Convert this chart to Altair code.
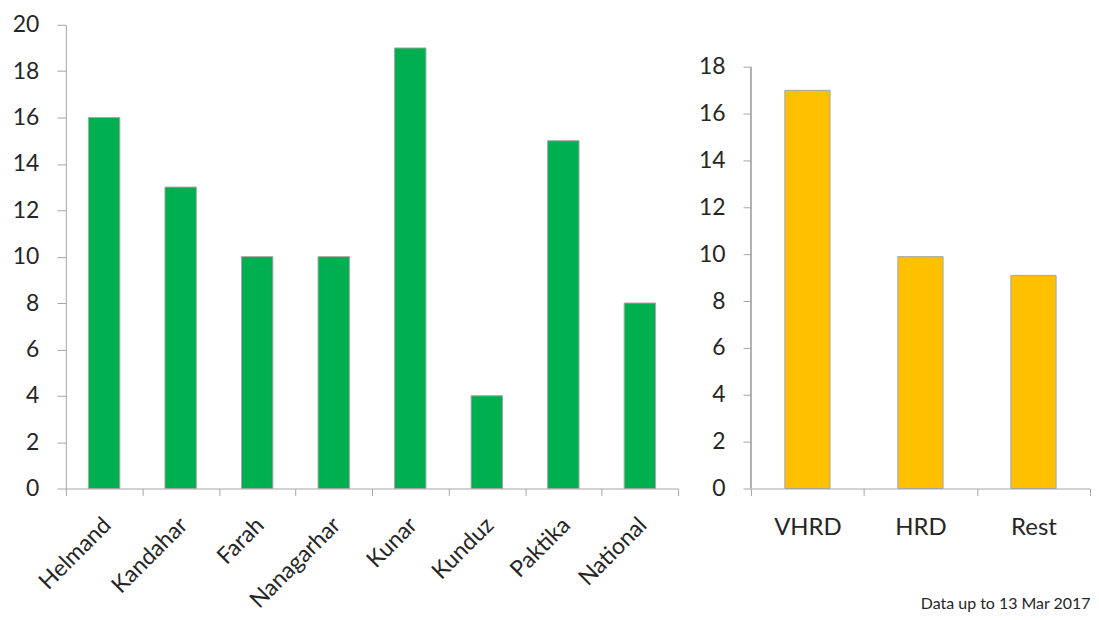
import altair as alt
import pandas as pd

provinces = ["Helmand", "Kandahar", "Farah", "Nanagarhar", "Kunar", "Kunduz", "Paktika", "National"]
province_values = [16, 13, 10, 10, 19, 4, 15, 8]
groups = ["VHRD", "HRD", "Rest"]
group_values = [17, 9.9, 9.1]
left_ticks = list(range(0, 21, 2))
right_ticks = list(range(0, 19, 2))
footnote = "Data up to 13 Mar 2017"

FONT = "Lato"
GRAY = "#A6A6A6"
TXT = "#262626"

left_df = pd.DataFrame({"province": provinces, "value": province_values})
right_df = pd.DataFrame({"group": groups, "value": group_values})

left = alt.Chart(left_df).mark_bar(
    color="#00B050", stroke=GRAY, strokeWidth=1, width=alt.RelativeBandSize(0.41)
).encode(
    x=alt.X("province:N", sort=provinces, title=None,
            scale=alt.Scale(paddingInner=0, paddingOuter=0),
            axis=alt.Axis(labelAngle=-45, labelFontSize=23, tickBand="extent",
                          tickSize=7, labelPadding=18, labelOffset=-5)),
    y=alt.Y("value:Q", title=None, scale=alt.Scale(domain=[0, 20], nice=False),
            axis=alt.Axis(values=left_ticks, tickSize=9, labelPadding=18, labelFontSize=23))
).properties(width=614, height=465)

bars_r = alt.Chart(right_df).mark_bar(
    color="#FFC000", stroke=GRAY, strokeWidth=1, width=alt.RelativeBandSize(0.4)
).encode(
    x=alt.X("group:N", sort=groups, title=None,
            scale=alt.Scale(paddingInner=0, paddingOuter=0),
            axis=alt.Axis(labelAngle=0, labelFontSize=24, tickBand="extent",
                          tickSize=7, labelPadding=20)),
    y=alt.Y("value:Q", title=None, scale=alt.Scale(domain=[0, 19.8], nice=False),
            axis=alt.Axis(values=right_ticks, tickSize=8, labelPadding=18, labelFontSize=23,
                          domain=False))
)
axis_line = alt.Chart(right_df).mark_rule(color=GRAY, strokeWidth=1).encode(
    x=alt.value(0), y=alt.datum(0), y2=alt.datum(18)
)
right = alt.layer(bars_r, axis_line).properties(
    width=340, height=465,
    title=alt.TitleParams(footnote, orient="bottom", anchor="end", fontSize=16, font=FONT,
                          fontWeight="normal", color=TXT, offset=57)
)

chart = alt.hconcat(left, right, spacing=19).properties(
    padding={"left": 4, "top": 5, "right": 0, "bottom": 0}
).configure_axis(
    labelFont=FONT, labelColor=TXT, domainColor=GRAY, tickColor=GRAY, grid=False
).configure_view(stroke=None)

chart.save("out.html", embed_options={"renderer": "svg", "actions": False})
